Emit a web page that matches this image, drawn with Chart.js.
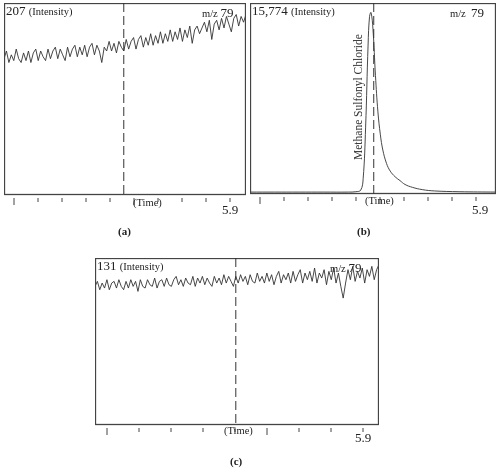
<!DOCTYPE html>
<html>
<head>
<meta charset="utf-8">
<script src="https://cdn.jsdelivr.net/npm/chart.js@4.4.0/dist/chart.umd.min.js"></script>
<style>
  body { margin: 0; background: #fff; font-family: "Liberation Serif", "DejaVu Serif", serif; color: #222; }
  #wrap { position: relative; width: 500px; height: 473px; overflow: hidden; }
  canvas { position: absolute; }
  .t { position: absolute; white-space: nowrap; }
  .big { font-size: 13px; }
  .sm { font-size: 10.5px; }
  .cap { font-size: 11px; font-weight: bold; }
</style>
</head>
<body>
<div id="wrap">
  <canvas id="chartA" width="242" height="204" style="left:4px;top:3px"></canvas>
  <canvas id="chartB" width="246" height="204" style="left:250px;top:3px"></canvas>
  <canvas id="chartC" width="284" height="179" style="left:95px;top:258px"></canvas>

  <div class="t big" style="left:6px;top:3px">207 <span class="sm">(Intensity)</span></div>
  <div class="t sm" style="left:202px;top:5px">m/z <span class="big">79</span></div>
  <div class="t sm" style="left:133px;top:197px">(Time)</div>
  <div class="t big" style="left:222px;top:202px">5.9</div>
  <div class="t cap" style="left:118px;top:225px">(a)</div>

  <div class="t big" style="left:252px;top:3px">15,774 <span class="sm">(Intensity)</span></div>
  <div class="t sm" style="left:450px;top:5px">m/z&nbsp; <span class="big">79</span></div>
  <div class="t sm" style="left:365px;top:195px">(Time)</div>
  <div class="t big" style="left:472px;top:202px">5.9</div>
  <div class="t cap" style="left:357px;top:225px">(b)</div>
  <div class="t" style="left:300px;top:96px;font-size:11.5px;color:#333;transform:rotate(-90deg);width:116px;text-align:center">Methane Sulfonyl Chloride</div>

  <div class="t big" style="left:97px;top:258px">131 <span class="sm">(Intensity)</span></div>
  <div class="t sm" style="left:330px;top:260px">m/z <span class="big">79</span></div>
  <div class="t sm" style="left:224px;top:425px">(Time)</div>
  <div class="t big" style="left:355px;top:430px">5.9</div>
  <div class="t cap" style="left:230px;top:455px">(c)</div>
</div>
<script>
// traces (0 = bottom of frame, 100 = top)
const traceA = [71,75,69,73,70,76,71,69,74,70,75,69,74,76,70,75,72,70,76,71,75,77,71,76,73,70,77,72,76,78,
  72,77,73,78,72,77,79,73,78,75,69,77,75,80,75,79,74,80,77,75,81,76,80,82,76,81,83,77,82,78,
  84,78,83,79,85,79,84,80,86,80,85,81,87,80,86,82,88,79,86,88,84,87,90,85,91,81,89,91,86,92,
  87,93,89,85,92,94,88,93,90,94];
const traceB = [[0,1],[10,1],[20,1],[30,1],[40,1],[43,1.2],[45,2],[46,8],[47,35],[48,78],[48.6,93],[49.2,95],
  [50,86],[51,62],[52,43],[53,31],[54,23],[55.5,16],[57,12],[59,9],[61,7],[63,5],[66,3.5],[70,2.3],[75,1.6],[85,1.2],[100,1]];
const traceC = [83,86,81,85,82,87,81,85,86,82,87,83,81,86,82,87,83,86,80,87,83,82,87,84,83,88,82,86,87,83,
  88,84,83,87,89,84,87,83,88,85,84,89,83,88,85,89,84,88,85,83,89,85,88,84,90,85,89,86,83,89,
  85,90,86,89,84,90,86,85,91,86,89,85,91,86,90,84,89,92,85,90,87,91,85,92,86,90,93,85,91,87,
  92,86,94,85,91,88,93,84,92,87,94,85,91,83,76,85,93,87,95,86,92,88,94,85,93,89,95,87,93,96];
const tickCountA = 10, tickCountB = 10, tickCountC = 9;

const frame = {
  id: 'frame',
  afterDraw(chart, args, o) {
    const { ctx, chartArea: a } = chart;
    ctx.save();
    ctx.strokeStyle = '#444';
    ctx.lineWidth = 1.3;
    ctx.strokeRect(a.left + 0.5, a.top + 0.5, a.width - 1, a.height - 1);
    ctx.lineWidth = 1;
    for (let i = 0; i < o.ticks; i++) {
      const x = a.left + o.tickStart + i * o.tickStep;
      const len = i % 5 === 0 ? 7 : 4;
      ctx.beginPath(); ctx.moveTo(x, a.bottom + 3); ctx.lineTo(x, a.bottom + 3 + len); ctx.stroke();
    }
    const dx = chart.scales.x.getPixelForValue(o.dash);
    ctx.setLineDash([9, 4]);
    ctx.strokeStyle = '#333';
    ctx.beginPath(); ctx.moveTo(dx, a.top); ctx.lineTo(dx, a.bottom); ctx.stroke();
    ctx.restore();
  }
};

function makeChart(id, data, opts) {
  const isXY = Array.isArray(data[0]);
  return new Chart(document.getElementById(id), {
    type: 'line',
    data: {
      labels: isXY ? undefined : data.map((_, i) => i),
      datasets: [{
        data: isXY ? data.map(p => ({ x: p[0], y: p[1] })) : data,
        borderColor: '#333', borderWidth: 0.9, pointRadius: 0, tension: isXY ? 0.4 : 0
      }]
    },
    options: {
      responsive: false, animation: false,
      layout: { padding: { bottom: opts.bottom } },
      plugins: { legend: { display: false }, tooltip: { enabled: false }, frame: opts },
      scales: {
        x: { type: 'linear', display: false, min: 0, max: isXY ? 100 : data.length - 1 },
        y: { display: false, min: 0, max: 100 }
      }
    },
    plugins: [frame]
  });
}

makeChart('chartA', traceA, { bottom: 12, ticks: tickCountA, tickStart: 10, tickStep: 24, dash: 49 });
makeChart('chartB', traceB, { bottom: 13, ticks: tickCountB, tickStart: 10, tickStep: 24, dash: 50.3 });
makeChart('chartC', traceC, { bottom: 12, ticks: tickCountC, tickStart: 12, tickStep: 32, dash: 59 });
</script>
</body>
</html>
